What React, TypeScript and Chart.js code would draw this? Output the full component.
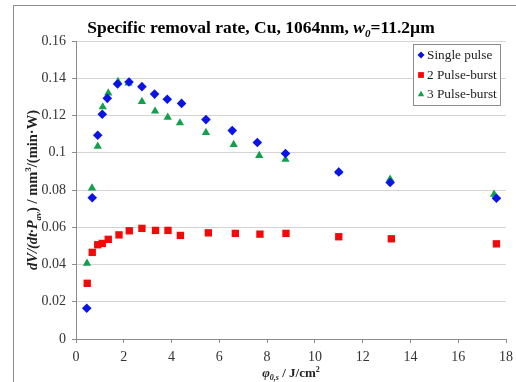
import React, { useEffect, useRef } from "react";
import { Chart, registerables } from "chart.js";

Chart.register(...registerables);

// ---- Data ----
const singleX = [0.45, 0.68, 0.91, 1.1, 1.31, 1.74, 2.22, 2.76, 3.29, 3.82, 4.42, 5.44, 6.54, 7.59, 8.77, 11.0, 13.15, 17.6];
const singleY = [0.0165, 0.0758, 0.1094, 0.1207, 0.1292, 0.1369, 0.138, 0.1355, 0.1315, 0.1287, 0.1265, 0.1178, 0.1119, 0.1055, 0.0996, 0.0897, 0.084, 0.0756];

const burst2X = [0.47, 0.68, 0.91, 1.1, 1.35, 1.8, 2.23, 2.76, 3.33, 3.85, 4.37, 5.54, 6.67, 7.7, 8.79, 11.0, 13.2, 17.6];
const burst2Y = [0.0299, 0.0465, 0.0506, 0.0513, 0.0535, 0.0559, 0.0581, 0.0594, 0.0583, 0.0583, 0.0556, 0.057, 0.0567, 0.0563, 0.0567, 0.0549, 0.0538, 0.0511];

const burst3X = [0.46, 0.67, 0.91, 1.12, 1.35, 1.76, 2.2, 2.76, 3.31, 3.84, 4.35, 5.44, 6.6, 7.67, 8.77, 11.0, 13.15, 17.5];
const burst3Y = [0.0406, 0.081, 0.1035, 0.1246, 0.132, 0.1382, 0.1374, 0.1275, 0.1223, 0.119, 0.116, 0.1108, 0.1044, 0.0985, 0.0964, 0.0897, 0.0858, 0.0777];

const seriesLabels = ["Single pulse", "2 Pulse-burst", "3 Pulse-burst"];
const yTickLabels = ["0", "0.02", "0.04", "0.06", "0.08", "0.1", "0.12", "0.14", "0.16"];
const xTickLabels = ["0", "2", "4", "6", "8", "10", "12", "14", "16", "18"];

type Seg = { t: string; italic?: boolean; sub?: boolean; sup?: boolean };
const titleSegs: Seg[] = [
  { t: "Specific removal rate, Cu, 1064nm, " },
  { t: "w", italic: true },
  { t: "0", italic: true, sub: true },
  { t: "=11.2µm" },
];
const yTitleSegs: Seg[] = [
  { t: "dV/(dt·P", italic: true },
  { t: "av", italic: true, sub: true },
  { t: ") / mm" },
  { t: "3", sup: true },
  { t: "/(min·W)" },
];
const xTitleSegs: Seg[] = [
  { t: "φ", italic: true },
  { t: "0,s", italic: true, sub: true },
  { t: " / J/cm" },
  { t: "2", sup: true },
];

const FONT = "'Liberation Serif', 'Times New Roman', serif";

function segFont(s: Seg, size: number) {
  const sz = s.sub || s.sup ? Math.round(size * 0.65) : size;
  return `${s.italic ? "italic " : ""}bold ${sz}px ${FONT}`;
}

function measureSegs(ctx: CanvasRenderingContext2D, segs: Seg[], size: number) {
  let w = 0;
  for (const s of segs) {
    ctx.font = segFont(s, size);
    w += ctx.measureText(s.t).width;
  }
  return w;
}

function drawSegs(ctx: CanvasRenderingContext2D, segs: Seg[], size: number, cx: number, baseline: number) {
  const total = measureSegs(ctx, segs, size);
  let x = cx - total / 2;
  ctx.textAlign = "left";
  ctx.textBaseline = "alphabetic";
  for (const s of segs) {
    ctx.font = segFont(s, size);
    const dy = s.sub ? size * 0.25 : s.sup ? -size * 0.4 : 0;
    ctx.fillText(s.t, x, baseline + dy);
    x += ctx.measureText(s.t).width;
  }
}

const decorPlugin = {
  id: "decor",
  beforeDraw(chart: any) {
    const ctx = chart.ctx as CanvasRenderingContext2D;
    ctx.save();
    ctx.strokeStyle = "#8c8c8c";
    ctx.lineWidth = 1;
    ctx.beginPath();
    ctx.moveTo(13.5, 400);
    ctx.lineTo(13.5, 5.5);
    ctx.lineTo(530, 5.5);
    ctx.stroke();
    ctx.restore();
  },
  afterDraw(chart: any) {
    const ctx = chart.ctx as CanvasRenderingContext2D;
    const area = chart.chartArea;
    ctx.save();
    ctx.fillStyle = "#000";
    drawSegs(ctx, titleSegs, 17.5, 261, 33);
    ctx.fillStyle = "#222";
    drawSegs(ctx, xTitleSegs, 13, (area.left + area.right) / 2, 377);
    ctx.save();
    ctx.translate(37, (area.top + area.bottom) / 2);
    ctx.rotate(-Math.PI / 2);
    drawSegs(ctx, yTitleSegs, 14.5, 0, 0);
    ctx.restore();

    // legend
    const bx = 413.5, by = 44.5, bw = 87, bh = 61;
    ctx.fillStyle = "#fff";
    ctx.fillRect(bx, by, bw, bh);
    ctx.strokeStyle = "#8c8c8c";
    ctx.lineWidth = 1;
    ctx.strokeRect(bx, by, bw, bh);
    const rows = [55, 75, 94];
    chart.data.datasets.forEach((ds: any, i: number) => {
      const y = rows[i];
      ctx.fillStyle = ds.backgroundColor;
      const style = ds.pointStyle;
      const r = i === 0 ? 3.5 : 3.2;
      const mx = 421;
      ctx.beginPath();
      if (style === "rectRot") {
        ctx.moveTo(mx, y - r);
        ctx.lineTo(mx + r, y);
        ctx.lineTo(mx, y + r);
        ctx.lineTo(mx - r, y);
        ctx.closePath();
      } else if (style === "rect") {
        ctx.rect(mx - r + 0.3, y - r + 0.3, 2 * r - 0.6, 2 * r - 0.6);
      } else {
        ctx.moveTo(mx, y - r);
        ctx.lineTo(mx + r, y + r * 0.7);
        ctx.lineTo(mx - r, y + r * 0.7);
        ctx.closePath();
      }
      ctx.fill();
      ctx.fillStyle = "#222";
      ctx.font = `13.3px ${FONT}`;
      ctx.textAlign = "left";
      ctx.textBaseline = "middle";
      ctx.fillText(ds.label, 427, y + 1);
    });
    ctx.restore();
  },
};

function toPoints(xs: number[], ys: number[]) {
  return xs.map((x, i) => ({ x, y: ys[i] }));
}

export default function App() {
  const ref = useRef<HTMLCanvasElement>(null);
  useEffect(() => {
    document.body.style.margin = "0";
    const chart = new Chart(ref.current!, {
      type: "scatter",
      data: {
        datasets: [
          {
            label: seriesLabels[0],
            data: toPoints(singleX, singleY),
            backgroundColor: "#0a14e6",
            borderColor: "#0a14e6",
            pointStyle: "rectRot",
            pointRadius: 4.8,
            borderWidth: 0,
          },
          {
            label: seriesLabels[1],
            data: toPoints(burst2X, burst2Y),
            backgroundColor: "#f20a0a",
            borderColor: "#f20a0a",
            pointStyle: "rect",
            pointRadius: 5.2,
            borderWidth: 0,
          },
          {
            label: seriesLabels[2],
            data: toPoints(burst3X, burst3Y),
            backgroundColor: "#12a04c",
            borderColor: "#12a04c",
            pointStyle: "triangle",
            pointRadius: 4.8,
            borderWidth: 0,
          },
        ] as any,
      },
      options: {
        animation: false,
        responsive: true,
        maintainAspectRatio: false,
        layout: { padding: { left: 0, top: 41, right: 10, bottom: 0 } },
        plugins: {
          legend: { display: false },
          tooltip: { enabled: false },
          title: { display: false },
        },
        scales: {
          x: {
            type: "linear",
            min: 0,
            max: 18,
            afterFit: (s: any) => {
              s.height = 43;
              s.paddingLeft = 0;
              s.paddingRight = 0;
            },
            afterBuildTicks: (s: any) => {
              s.ticks = xTickLabels.map((l) => ({ value: Number(l) }));
            },
            ticks: {
              stepSize: 2,
              padding: 6,
              color: "#333",
              font: { family: FONT, size: 14 },
              maxRotation: 0,
              callback: (_v: any, i: number) => xTickLabels[i],
            },
            grid: {
              drawOnChartArea: false,
              drawTicks: true,
              tickLength: 4,
              tickColor: "#8c8c8c",
            },
            border: { color: "#8c8c8c", width: 1 },
          },
          y: {
            type: "linear",
            min: 0,
            max: 0.16,
            afterFit: (s: any) => {
              s.width = 76;
              s.paddingTop = 0;
              s.paddingBottom = 0;
            },
            afterBuildTicks: (s: any) => {
              s.ticks = yTickLabels.map((l) => ({ value: Number(l) }));
            },
            ticks: {
              stepSize: 0.02,
              padding: 6,
              color: "#333",
              font: { family: FONT, size: 14 },
              callback: (_v: any, i: number) => yTickLabels[i],
            },
            grid: {
              color: "#d4d4d4",
              lineWidth: 1,
              tickLength: 4,
              tickColor: "#8c8c8c",
            },
            border: { color: "#8c8c8c", width: 1 },
          },
        },
      } as any,
      plugins: [decorPlugin],
    });
    return () => chart.destroy();
  }, []);
  return (
    <div style={{ position: "absolute", left: 0, top: 0, width: 516, height: 382 }}>
      <canvas ref={ref} />
    </div>
  );
}
